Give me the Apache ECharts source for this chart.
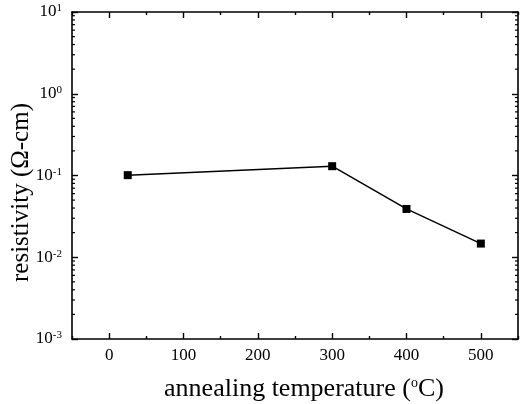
<!DOCTYPE html>
<html>
<head>
<meta charset="utf-8">
<script src="https://cdn.jsdelivr.net/npm/echarts@6/dist/echarts.min.js"></script>
<style>
  html, body { margin: 0; padding: 0; background: #fff; }
  #chart { width: 520px; height: 404px; }
</style>
</head>
<body>
<div id="chart"></div>
<script>
// annealing temperature (C) and measured resistivity (ohm-cm)
var temps = [25, 300, 400, 500];
var resistivity = [0.101, 0.13, 0.039, 0.0147];

// tick positions
var xMajor = [0, 100, 200, 300, 400, 500];
var xMinor = [-50, 50, 150, 250, 350, 450, 550];
var yMin = 0.001, yMax = 10;
var xMin = -50, xMax = 550;

var yMinor = [];
for (var k = -3; k < 1; k++) {
	for (var m = 2; m <= 9; m++) {
		yMinor.push(m * Math.pow(10, k));
	}
}

var FONT = 'Liberation Serif';
var black = '#000';

function xAxisCfg(pos, ticks, len, showLine, showLabel) {
	return {
		type : 'value',
		position : pos,
		min : xMin,
		max : xMax,
		axisLine : { show : showLine, onZero : false, lineStyle : { color : black, width : 1.6 } },
		axisTick : { show : true, inside : true, length : len, customValues : ticks,
			lineStyle : { color : black, width : 1.4 } },
		axisLabel : { show : showLabel, customValues : ticks, margin : 8,
			color : black, fontFamily : FONT, fontSize : 17 },
		splitLine : { show : false }
	};
}

var chart = echarts.init(document.getElementById('chart'));

var bottomMajor = xAxisCfg('bottom', xMajor, 6, true, true);
bottomMajor.name = 'annealing temperature ({s|o}C)';
bottomMajor.nameLocation = 'middle';
bottomMajor.nameGap = 37;
bottomMajor.nameMoveOverlap = false;
bottomMajor.nameTextStyle = {
	color : black, fontFamily : FONT, fontSize : 26, padding : [0, 0, 0, 18],
	rich : { s : { color : black, fontFamily : FONT, fontSize : 14, verticalAlign : 'top', lineHeight : 14 } }
};

function expLabel(val) {
	var e = Math.round(Math.log(val) / Math.LN10);
	return '10{e|' + e + '}';
}

var option = {
	animation : false,
	backgroundColor : '#fff',
	grid : { left : 72, right : 2, top : 12, bottom : 65, outerBoundsMode : 'none', containLabel : false },
	xAxis : [
		bottomMajor,
		xAxisCfg('bottom', xMinor, 3, false, false),
		xAxisCfg('top', xMajor, 6, true, false),
		xAxisCfg('top', xMinor, 3, false, false)
	],
	yAxis : [ {
		type : 'log',
		logBase : 10,
		position : 'left',
		min : yMin,
		max : yMax,
		name : 'resistivity (\u03A9-cm)',
		nameLocation : 'middle',
		nameGap : 38,
		nameMoveOverlap : false,
		nameTextStyle : { color : black, fontFamily : FONT, fontSize : 25, padding : [0, 34, 0, 0] },
		axisLine : { show : true, onZero : false, lineStyle : { color : black, width : 1.6 } },
		axisTick : { inside : true, length : 6, lineStyle : { color : black, width : 1.4 } },
		axisLabel : {
			margin : 10,
			color : black,
			fontFamily : FONT,
			fontSize : 17,
			lineHeight : 18,
			formatter : expLabel,
			rich : {
				e : { color : black, fontFamily : FONT, fontSize : 11, verticalAlign : 'top', lineHeight : 10 }
			}
		},
		splitLine : { show : false }
	}, {
		type : 'log',
		logBase : 10,
		position : 'right',
		min : yMin,
		max : yMax,
		axisLine : { show : true, onZero : false, lineStyle : { color : black, width : 1.6 } },
		axisTick : { inside : true, length : 6, lineStyle : { color : black, width : 1.4 } },
		axisLabel : { show : false },
		splitLine : { show : false }
	} ],
	series : [ {
		// minor ticks of the log axis (2..9 of each decade), left and right
		type : 'custom',
		silent : true,
		xAxisIndex : 0,
		yAxisIndex : 0,
		z : 5,
		clip : false,
		data : yMinor.map(function(v) { return [xMin, v]; }),
		renderItem : function(params, api) {
			var v = api.value(1);
			var l = api.coord([xMin, v]);
			var r = api.coord([xMax, v]);
			var st = { stroke : black, lineWidth : 1.2 };
			return {
				type : 'group',
				children : [
					{ type : 'line', shape : { x1 : l[0], y1 : l[1], x2 : l[0] + 3, y2 : l[1] }, style : st },
					{ type : 'line', shape : { x1 : r[0], y1 : r[1], x2 : r[0] - 3, y2 : r[1] }, style : st }
				]
			};
		}
	}, {
		name : 'resistivity',
		type : 'line',
		xAxisIndex : 0,
		yAxisIndex : 0,
		z : 10,
		data : temps.map(function(t, i) { return [t, resistivity[i]]; }),
		symbol : 'rect',
		symbolSize : 8,
		lineStyle : { color : black, width : 1.5 },
		itemStyle : { color : black }
	} ]
};

chart.setOption(option);
</script>
</body>
</html>
